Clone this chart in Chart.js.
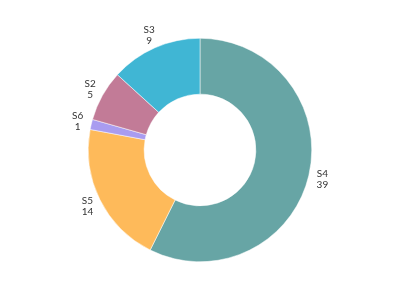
<!DOCTYPE html>
<html><head><meta charset="utf-8">
<script src="https://cdn.jsdelivr.net/npm/chart.js@4/dist/chart.umd.min.js"></script>
<style>html,body{margin:0;padding:0;background:#fff}#wrap{width:400px;height:300px}</style>
</head><body><div id="wrap"><canvas id="c"></canvas></div>
<script>
const categories = ["S4", "S5", "S6", "S2", "S3"];
const values = [39, 14, 1, 5, 9];
const colors = ["#67a5a5", "#feba5a", "#a99cf0", "#c27b97", "#40b6d4"];

const labelPlugin = {
  id: 'outLabels',
  afterDatasetsDraw(chart) {
    const ctx = chart.ctx;
    const meta = chart.getDatasetMeta(0);
    ctx.save();
    ctx.font = '10px Lato, sans-serif';
    ctx.fillStyle = '#333';
    ctx.textAlign = 'center';
    ctx.textBaseline = 'middle';
    meta.data.forEach((arc, i) => {
      const mid = (arc.startAngle + arc.endAngle) / 2;
      const r = arc.outerRadius + 14;
      const x = arc.x + Math.cos(mid) * r;
      const y = arc.y + Math.sin(mid) * r;
      ctx.fillText(categories[i], x, y - 5);
      ctx.fillText(String(values[i]), x, y + 6);
    });
    ctx.restore();
  }
};

new Chart(document.getElementById('c'), {
  type: 'doughnut',
  data: { labels: categories, datasets: [{ data: values, backgroundColor: colors, borderColor: '#ffffff', borderWidth: 0.5 }] },
  options: {
    responsive: true, maintainAspectRatio: false, animation: false,
    cutout: '50%',
    layout: { padding: 38 },
    plugins: { legend: { display: false }, tooltip: { enabled: false } }
  },
  plugins: [labelPlugin]
});
</script></body></html>
